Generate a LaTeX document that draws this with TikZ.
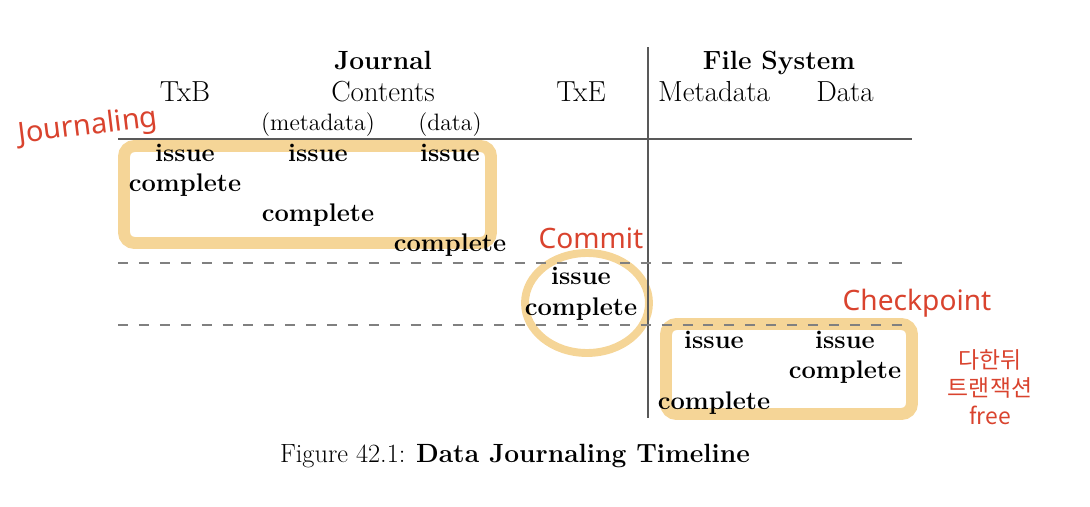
\documentclass[tikz,border=0pt]{standalone}
\usepackage{fontspec}
\newfontfamily\handfont{Noto Sans}
\newfontfamily\krfont{Noto Sans CJK KR}
\usetikzlibrary{positioning}
\definecolor{marker}{HTML}{F5D597}
\definecolor{pen}{HTML}{D9432E}
\definecolor{rulegray}{HTML}{808080}

\begin{document}
\begin{tikzpicture}[x=0.02cm, y=-0.02cm]
\tikzstyle{head}=[font=\fontsize{15}{18}\selectfont\bfseries, anchor=base, inner sep=0pt]
\tikzstyle{col}=[font=\fontsize{16.5}{19}\selectfont, anchor=base, inner sep=0pt]
\tikzstyle{sub}=[font=\fontsize{13.5}{16}\selectfont, anchor=base, inner sep=0pt]
\tikzstyle{event}=[font=\fontsize{14.5}{17}\selectfont\bfseries, anchor=base, inner sep=0pt]
\tikzstyle{note}=[text=pen, font=\handfont\fontsize{16}{19}\selectfont, inner sep=0pt]
\tikzstyle{hilite}=[draw=marker, line width=6.8pt, rounded corners=6pt]
\tikzstyle{solidrule}=[draw=black!65, line width=1.1pt]
\tikzstyle{dashrule}=[draw=rulegray, line width=1.1pt, dash pattern=on 5.7pt off 6.2pt]

\useasboundingbox (0,0) rectangle (1090,507);

% 1. Highlights
%%%%%%%%%%%%%%%
\draw[hilite] (124,146) rectangle (491,243);
\draw[hilite] (666,324) rectangle (912,414);
\draw[draw=marker, line width=4.5pt] (587,303) ellipse [x radius=1.24cm, y radius=1.0cm];

% 2. Rules
%%%%%%%%%%
\draw[solidrule] (648,47) -- (648,418);
\draw[solidrule] (118,139) -- (912,139);
\draw[dashrule] (118,263) -- (912,263);
\draw[dashrule] (118,325) -- (912,325);

% 3. Headers
%%%%%%%%%%%%
\node[head] (journal) at (383,70) {Journal};
\node[head] (fs) at (779,70) {File System};
\node[col] (txb) at (185,101) {TxB};
\node[col] (contents) at (383,101) {Contents};
\node[col] (txe) at (581,101) {TxE};
\node[col] (fsmeta) at (714,101) {Metadata};
\node[col] (fsdata) at (845,101) {Data};
\node[sub] (jmeta) at (318,130) {(metadata)};
\node[sub] (jdata) at (450,130) {(data)};

% 4. Events
%%%%%%%%%%%
\node[event] (txbIssue) at (185,161) {issue};
\node[event] (jmetaIssue) at (318,161) {issue};
\node[event] (jdataIssue) at (450,161) {issue};
\node[event] (txbDone) at (185,191) {complete};
\node[event] (jmetaDone) at (318,221) {complete};
\node[event] (jdataDone) at (450,251) {complete};
\node[event] (txeIssue) at (581,284) {issue};
\node[event] (txeDone) at (581,315) {complete};
\node[event] (fsmetaIssue) at (714,348) {issue};
\node[event] (fsdataIssue) at (845,348) {issue};
\node[event] (fsdataDone) at (845,378) {complete};
\node[event] (fsmetaDone) at (714,409) {complete};

% 5. Caption
%%%%%%%%%%%%
\node[col, font=\fontsize{15}{18}\selectfont] (caption) at (515,462) {Figure 42.1: \textbf{Data Journaling Timeline}};

% 6. Notes
%%%%%%%%%%
\node[note, font=\handfont\fontsize{16.5}{20}\selectfont, rotate=7] (journaling) at (88,127) {Journaling};
\node[note] (commit) at (591,238) {Commit};
\node[note] (checkpoint) at (917,303) {Checkpoint};
\node[note, font=\krfont\fontsize{13}{16}\selectfont, align=center] (free) at (990,387) {다한뒤\\트랜잭션\\free};

\end{tikzpicture}
\end{document}
